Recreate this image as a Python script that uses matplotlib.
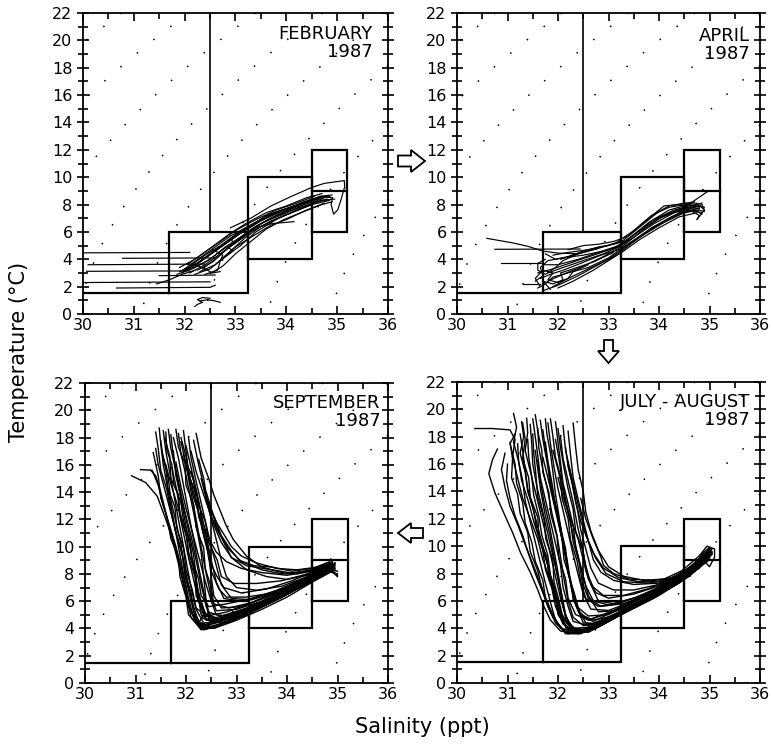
import numpy as np
import matplotlib
matplotlib.use("Agg")
import matplotlib.pyplot as plt
from matplotlib.patches import Polygon
from matplotlib.ticker import MultipleLocator

# ---------------- data ----------------
sal_ticks = [30, 31, 32, 33, 34, 35, 36]
temp_ticks = [0, 2, 4, 6, 8, 10, 12, 14, 16, 18, 20, 22]
sigma_levels = [18, 19, 20, 21, 22, 23, 24, 25, 26, 27, 28]

panel_titles = ["FEBRUARY\n1987", "APRIL\n1987", "SEPTEMBER\n1987", "JULY - AUGUST\n1987"]

# water-mass boxes: (S_left, S_right, T_bottom, T_top)
box_slope_shelf = (31.7, 33.25, 1.5, 6.0)
box_mid = (33.25, 34.5, 4.0, 10.0)
box_deep = (34.5, 35.2, 6.0, 12.0)
deep_divider_T = 9.0
shelf_floor = (30.0, 31.7, 1.5)
front_line = (32.5, 6.0, 22.0)

feb_profiles = [
    [(30.0, 4.47), (32.1, 4.5)],
    [(30.78, 4.07), (32.6, 4.1)],
    [(30.1, 3.6), (32.4, 3.65)],
    [(30.07, 3.12), (32.1, 3.15)],
    [(30.0, 2.3), (32.5, 2.35)],
    [(30.66, 1.9), (32.5, 1.95), (32.6, 2.1)],
    [(31.5, 2.8), (32.6, 2.85)],
    [(31.45, 2.2), (31.7, 2.5), (31.95, 2.9), (32.2, 3.2)],
    [(32.5, 1.15), (32.35, 1.2), (32.25, 1.05), (32.35, 0.85), (32.25, 0.7), (32.2, 0.55)],
    [(32.3, 0.95), (32.45, 1.05), (32.6, 0.95), (32.7, 0.85)],
    [(31.95, 3.0), (32.2, 3.6), (32.5, 4.4), (32.8, 5.2), (33.1, 5.9), (33.5, 6.8), (33.9, 7.5), (34.3, 8.1), (34.6, 8.5), (34.8, 8.6)],
    [(32.0, 3.3), (32.3, 4.1), (32.6, 4.9), (32.9, 5.7), (33.3, 6.5), (33.7, 7.3), (34.1, 7.8), (34.5, 8.3), (34.75, 8.5)],
    [(32.1, 3.0), (32.4, 3.6), (32.7, 4.4), (33.0, 5.2), (33.3, 6.0), (33.7, 6.8), (34.1, 7.4), (34.5, 8.0), (34.85, 8.3)],
    [(32.2, 2.9), (32.5, 3.3), (32.8, 4.2), (33.1, 5.0), (33.4, 6.0), (33.8, 6.9), (34.2, 7.6), (34.6, 8.2), (34.9, 8.4)],
    [(31.9, 3.4), (32.2, 4.0), (32.5, 4.8), (32.9, 5.9), (33.2, 6.6), (33.6, 7.4), (34.0, 7.9), (34.4, 8.5), (34.7, 8.8)],
    [(32.3, 3.1), (32.6, 3.6), (32.9, 4.6), (33.2, 5.6), (33.5, 6.4), (33.9, 7.1), (34.3, 7.7), (34.7, 8.3), (34.95, 8.4)],
    [(32.05, 3.6), (32.35, 4.4), (32.7, 5.3), (33.0, 6.1), (33.4, 6.9), (33.8, 7.6), (34.2, 8.1), (34.55, 8.6)],
    [(31.85, 2.9), (32.15, 3.3), (32.45, 3.9), (32.75, 4.7), (33.05, 5.5), (33.35, 6.3), (33.75, 7.1), (34.2, 7.7), (34.6, 8.2), (34.8, 8.4)],
    [(32.4, 2.9), (32.65, 3.2), (32.7, 3.9), (33.0, 4.9), (33.3, 5.6), (33.7, 6.5), (34.0, 6.9), (34.4, 7.6), (34.75, 8.1)],
    [(32.0, 3.2), (32.3, 3.8), (32.6, 4.6), (32.95, 5.5), (33.25, 6.3), (33.6, 7.2), (34.0, 7.7), (34.4, 8.2), (34.7, 8.6), (34.9, 8.5)],
    [(32.9, 6.3), (33.3, 7.0), (33.7, 7.9), (34.1, 8.6), (34.5, 9.25), (34.75, 9.55), (35.14, 9.75), (35.15, 9.2)],
    [(34.5, 8.4), (34.75, 8.6), (34.91, 8.5), (34.88, 8.0), (34.93, 7.3), (35.01, 7.6), (35.08, 8.4), (35.14, 9.2)],
    [(32.55, 4.7), (32.75, 4.3), (32.7, 3.9), (32.95, 4.6), (32.85, 4.9)],
    [(33.4, 6.3), (33.7, 6.6), (34.0, 6.7), (34.15, 6.75)],
    [(32.15, 3.7), (32.4, 3.3), (32.55, 3.0), (32.7, 3.1)],
    [(32.15, 3.4), (32.45, 4.2), (32.75, 5.0), (33.05, 5.8), (33.35, 6.6), (33.75, 7.4), (34.15, 7.9), (34.5, 8.4), (34.8, 8.6)],
    [(31.95, 3.2), (32.25, 3.7), (32.55, 4.5), (32.85, 5.4), (33.15, 6.2), (33.55, 7.0), (33.95, 7.6), (34.35, 8.2), (34.65, 8.5)],
    [(32.25, 3.2), (32.55, 3.8), (32.85, 4.8), (33.15, 5.6), (33.45, 6.5), (33.85, 7.3), (34.25, 7.9), (34.6, 8.4), (34.85, 8.6)],
    [(32.1, 3.5), (32.4, 4.3), (32.75, 5.1), (33.1, 6.0), (33.45, 6.8), (33.85, 7.5), (34.3, 8.0), (34.65, 8.6), (34.9, 8.7)],
    [(32.35, 3.3), (32.6, 4.0), (32.9, 5.0), (33.2, 5.8), (33.55, 6.7), (33.95, 7.3), (34.35, 8.0), (34.7, 8.4)],
    [(32.5, 2.95), (32.75, 3.5), (33.0, 4.4), (33.3, 5.3), (33.6, 6.2), (33.95, 6.9), (34.35, 7.5), (34.7, 8.0), (34.9, 8.2)],
    [(31.9, 3.1), (32.2, 3.4), (32.5, 4.0), (32.8, 4.9), (33.1, 5.6), (33.4, 6.4), (33.8, 7.2), (34.2, 7.9), (34.6, 8.4)],
]

apr_profiles = [
    [(30.59, 5.53), (31.1, 5.2), (31.4, 4.95), (31.7, 4.6), (32.0, 4.45), (32.4, 4.4)],
    [(30.75, 4.73), (32.44, 4.75)],
    [(30.88, 3.7), (31.71, 3.7)],
    [(31.31, 2.2), (31.65, 2.2)],
    [(31.7, 1.7), (32.0, 2.1), (32.4, 2.8), (32.8, 3.6), (33.2, 4.4), (33.6, 5.6), (34.0, 6.5), (34.4, 7.3), (34.7, 7.6), (34.85, 7.3)],
    [(31.8, 2.4), (32.1, 2.9), (32.5, 3.5), (32.9, 4.2), (33.3, 5.0), (33.7, 6.2), (34.1, 7.2), (34.5, 7.8), (34.8, 7.7)],
    [(31.6, 3.0), (31.9, 3.3), (32.3, 3.8), (32.7, 4.3), (33.1, 4.8), (33.4, 5.5), (33.8, 6.7), (34.2, 7.6), (34.6, 8.0), (34.9, 7.8)],
    [(31.9, 4.3), (32.2, 4.5), (32.6, 4.7), (33.0, 5.0), (33.3, 5.4), (33.6, 6.4), (33.9, 7.3), (34.1, 7.9), (34.4, 8.0), (34.7, 8.2)],
    [(31.55, 2.4), (31.7, 2.8), (31.65, 3.4), (31.8, 3.9), (32.1, 4.1), (32.5, 4.3), (32.9, 4.6), (33.2, 4.9), (33.5, 5.6), (33.9, 6.6), (34.3, 7.4), (34.6, 7.7), (34.9, 7.5)],
    [(32.0, 1.9), (32.3, 2.4), (32.7, 3.2), (33.0, 3.9), (33.3, 4.6), (33.6, 5.4), (34.0, 6.3), (34.4, 7.1), (34.75, 7.4)],
    [(31.7, 3.6), (32.0, 3.6), (32.4, 4.0), (32.8, 4.5), (33.2, 5.0), (33.5, 5.8), (33.9, 6.9), (34.3, 7.6), (34.6, 7.9), (34.85, 8.1)],
    [(31.6, 1.9), (31.75, 2.2), (31.9, 2.7), (32.2, 3.0), (32.6, 3.4), (33.0, 4.1), (33.3, 4.9), (33.7, 5.9), (34.1, 6.8), (34.5, 7.6), (34.8, 7.9)],
    [(32.2, 4.7), (32.5, 5.0), (32.8, 5.1), (33.1, 5.3), (33.4, 5.7), (33.7, 6.6), (34.0, 7.5), (34.2, 7.9), (34.5, 8.1), (34.75, 8.1), (34.9, 7.6)],
    [(31.65, 2.0), (31.55, 2.6), (31.7, 3.2), (31.9, 3.0), (31.8, 2.5), (32.0, 2.3), (32.2, 2.6), (32.3, 3.1), (32.6, 3.6)],
    [(31.75, 4.0), (31.6, 3.7), (31.6, 3.2), (31.75, 2.9), (31.95, 3.4), (32.1, 3.9), (32.4, 4.4), (32.8, 4.8)],
    [(34.4, 7.4), (34.6, 7.6), (34.8, 7.2), (34.75, 6.9), (34.9, 7.6), (34.85, 8.0), (34.7, 7.8)],
    [(33.9, 6.9), (34.45, 7.65), (34.98, 9.0)],
    [(31.85, 1.8), (31.7, 2.4), (31.9, 2.2), (32.1, 2.5), (32.05, 3.0), (32.3, 3.3), (32.7, 3.8), (33.1, 4.5)],
    [(31.75, 4.4), (31.95, 4.0), (32.2, 4.2), (32.5, 4.6), (32.8, 4.9), (33.1, 5.1), (33.4, 5.4)],
    [(31.9, 2.0), (32.2, 2.6), (32.6, 3.3), (33.0, 4.0), (33.3, 4.8), (33.7, 5.8), (34.1, 6.7), (34.5, 7.4), (34.8, 7.6)],
    [(31.8, 3.0), (32.1, 3.4), (32.5, 3.9), (32.9, 4.4), (33.2, 4.9), (33.55, 5.9), (33.95, 6.9), (34.35, 7.5), (34.7, 7.9)],
    [(32.05, 4.0), (32.4, 4.4), (32.8, 4.8), (33.15, 5.2), (33.5, 6.1), (33.85, 7.2), (34.2, 7.8), (34.55, 8.0), (34.8, 7.8)],
    [(31.65, 2.6), (31.85, 2.9), (32.1, 3.2), (32.45, 3.7), (32.85, 4.3), (33.2, 4.7), (33.5, 5.3), (33.85, 6.3), (34.25, 7.1), (34.6, 7.6), (34.85, 7.4)],
]

sep_profiles = [
    [(31.47, 18.7), (31.5, 17.5), (31.55, 16.0), (31.65, 14.0), (31.75, 12.0), (31.85, 10.0), (31.95, 8.0), (32.05, 6.2), (32.15, 4.8), (32.3, 4.0), (32.6, 4.2), (33.0, 4.9), (33.5, 5.7), (34.0, 6.6), (34.5, 7.7), (34.85, 8.4), (35.0, 7.9)],
    [(31.55, 18.5), (31.6, 17.0), (31.7, 15.0), (31.8, 13.0), (31.9, 11.0), (32.0, 9.0), (32.1, 7.0), (32.2, 5.4), (32.35, 4.4), (32.7, 4.5), (33.2, 5.3), (33.7, 6.1), (34.2, 7.0), (34.6, 7.9), (34.9, 8.5)],
    [(31.65, 18.6), (31.7, 17.2), (31.8, 15.5), (31.9, 13.5), (32.0, 11.5), (32.1, 9.5), (32.2, 7.5), (32.3, 5.8), (32.4, 4.6), (32.8, 4.7), (33.3, 5.4), (33.9, 6.4), (34.4, 7.4), (34.8, 8.3), (34.95, 8.6)],
    [(31.75, 18.0), (31.85, 16.5), (31.95, 14.5), (32.05, 12.5), (32.15, 10.5), (32.25, 8.5), (32.35, 6.7), (32.45, 5.2), (32.7, 4.9), (33.2, 5.5), (33.8, 6.5), (34.3, 7.5), (34.75, 8.5), (34.9, 8.7)],
    [(31.9, 17.7), (32.0, 16.0), (32.1, 14.0), (32.2, 12.0), (32.3, 10.0), (32.4, 8.0), (32.5, 6.3), (32.6, 5.3), (33.0, 5.4), (33.5, 6.0), (34.0, 6.9), (34.5, 7.9), (34.85, 8.6)],
    [(32.0, 17.4), (32.1, 15.8), (32.2, 14.2), (32.3, 12.5), (32.4, 10.8), (32.5, 9.0), (32.6, 7.4), (32.75, 6.2), (33.1, 6.0), (33.6, 6.5), (34.1, 7.2), (34.5, 8.0), (34.9, 8.8)],
    [(32.2, 18.3), (32.3, 16.5), (32.45, 15.0), (32.55, 13.8), (32.67, 12.7), (32.8, 11.5), (32.94, 10.5), (33.2, 9.3), (33.5, 8.5), (34.0, 8.0), (34.5, 8.3), (34.85, 8.8)],
    [(32.1, 17.0), (32.2, 15.5), (32.35, 13.8), (32.5, 12.2), (32.65, 11.0), (32.85, 9.8), (33.1, 8.9), (33.5, 8.3), (33.9, 8.0), (34.4, 8.2), (34.8, 8.7)],
    [(31.3, 15.6), (31.4, 15.2), (31.5, 14.0), (31.6, 12.5), (31.7, 11.0), (31.8, 9.5), (31.9, 8.0), (32.0, 6.5), (32.1, 5.2), (32.25, 4.2), (32.5, 4.0), (33.0, 4.8), (33.6, 5.8), (34.1, 6.8), (34.6, 7.8), (34.9, 8.2)],
    [(30.92, 15.2), (31.2, 14.7), (31.43, 13.7), (31.6, 12.0), (31.79, 10.0), (31.9, 8.2), (32.0, 6.6), (32.1, 4.8), (32.3, 3.9), (32.6, 4.1), (33.0, 4.8), (33.5, 5.6), (34.0, 6.5), (34.5, 7.6), (34.85, 8.3), (35.0, 7.8)],
    [(31.1, 15.65), (31.33, 15.6), (31.45, 14.5), (31.55, 13.0), (31.68, 11.5), (31.8, 10.0), (31.9, 8.6), (32.0, 7.0), (32.05, 5.6), (32.2, 4.5), (32.4, 4.3), (32.9, 5.0), (33.4, 5.7), (33.9, 6.5), (34.4, 7.4), (34.8, 8.1)],
    [(31.5, 17.8), (31.55, 16.4), (31.65, 15.0), (31.7, 13.4), (31.8, 11.8), (31.9, 10.2), (31.95, 8.8), (32.05, 7.2), (32.15, 5.6), (32.25, 4.5), (32.45, 4.1), (32.9, 4.6), (33.4, 5.4), (34.0, 6.5), (34.5, 7.5), (34.9, 8.5)],
    [(31.7, 18.2), (31.75, 16.6), (31.85, 14.8), (31.95, 13.0), (32.05, 11.2), (32.15, 9.4), (32.2, 7.8), (32.25, 6.2), (32.3, 5.0), (32.5, 4.5), (32.9, 4.9), (33.4, 5.6), (33.9, 6.4), (34.4, 7.3), (34.8, 8.2), (35.0, 8.0)],
    [(31.85, 18.3), (31.9, 16.8), (32.0, 15.2), (32.1, 13.4), (32.2, 11.6), (32.3, 9.6), (32.35, 7.8), (32.4, 6.0), (32.45, 4.7), (32.7, 4.6), (33.2, 5.2), (33.7, 6.0), (34.2, 7.0), (34.65, 8.0), (34.9, 8.6)],
    [(31.6, 16.0), (31.7, 14.6), (31.85, 12.8), (31.95, 11.0), (32.05, 9.2), (32.15, 7.6), (32.25, 6.0), (32.35, 5.0), (32.6, 4.8), (33.1, 5.3), (33.6, 6.1), (34.1, 7.0), (34.6, 8.0), (34.95, 8.4)],
    [(32.05, 18.0), (32.1, 16.5), (32.2, 14.8), (32.3, 13.2), (32.4, 11.6), (32.5, 10.0), (32.6, 8.6), (32.7, 7.2), (32.9, 6.2), (33.3, 6.1), (33.8, 6.7), (34.3, 7.5), (34.7, 8.2), (34.95, 8.7)],
    [(31.95, 16.8), (32.05, 15.2), (32.15, 13.6), (32.3, 12.0), (32.45, 10.6), (32.6, 9.6), (32.8, 8.9), (33.1, 8.4), (33.5, 8.1), (34.0, 7.9), (34.5, 8.2), (34.9, 8.6)],
    [(32.15, 17.8), (32.25, 16.0), (32.35, 14.5), (32.45, 13.0), (32.55, 11.6), (32.7, 10.3), (32.9, 9.2), (33.2, 8.6), (33.7, 8.3), (34.2, 8.0), (34.6, 8.4), (34.9, 8.9)],
    [(31.75, 17.0), (31.8, 15.2), (31.9, 13.6), (32.0, 12.2), (32.1, 10.8), (32.2, 9.0), (32.3, 7.2), (32.4, 5.6), (32.55, 4.5), (32.8, 4.4), (33.2, 5.0), (33.8, 6.1), (34.3, 7.1), (34.75, 8.1)],
    [(31.4, 17.2), (31.45, 16.0), (31.55, 14.6), (31.65, 13.2), (31.75, 11.8), (31.85, 10.4), (31.95, 9.0), (32.0, 7.6), (32.1, 6.0), (32.2, 4.6), (32.35, 3.9), (32.7, 4.3), (33.2, 5.1), (33.8, 6.1), (34.3, 7.1), (34.8, 8.2)],
    [(32.3, 15.0), (32.4, 13.5), (32.5, 12.0), (32.6, 10.5), (32.7, 9.0), (32.8, 7.8), (33.0, 7.0), (33.4, 6.8), (33.9, 7.1), (34.4, 7.8), (34.85, 8.6)],
    [(31.95, 18.5), (32.0, 17.0), (32.05, 15.5), (32.15, 14.0), (32.25, 12.4), (32.35, 10.8), (32.45, 9.3), (32.5, 7.8), (32.55, 6.4), (32.7, 5.5), (33.1, 5.6), (33.6, 6.3), (34.1, 7.2), (34.6, 8.1), (34.95, 8.5)],
    [(32.4, 14.0), (32.5, 12.8), (32.6, 11.5), (32.75, 10.3), (32.9, 9.2), (33.2, 8.3), (33.6, 7.8), (34.0, 7.6), (34.4, 7.9), (34.8, 8.5)],
    [(31.8, 16.2), (31.9, 14.4), (32.0, 12.8), (32.1, 11.4), (32.2, 10.0), (32.3, 8.6), (32.4, 7.2), (32.5, 6.0), (32.6, 5.0), (32.9, 4.9), (33.3, 5.4), (33.9, 6.3), (34.4, 7.3), (34.9, 8.3)],
    [(32.2, 4.6), (32.3, 4.2), (32.5, 4.3), (32.55, 4.8), (32.35, 5.0), (32.25, 4.4), (32.4, 3.95)],
    [(31.6, 18.4), (31.62, 17.1), (31.72, 16.0), (31.76, 14.6), (31.9, 13.2), (31.95, 11.9), (32.08, 10.4), (32.12, 9.1), (32.25, 7.6), (32.3, 6.4), (32.45, 5.6), (32.8, 5.8), (33.3, 6.2), (33.8, 6.8), (34.3, 7.6), (34.7, 8.3), (34.95, 8.8)],
    [(31.52, 17.0), (31.6, 15.9), (31.64, 14.3), (31.78, 12.9), (31.82, 11.3), (31.95, 9.9), (32.0, 8.3), (32.12, 6.9), (32.2, 5.5), (32.4, 4.9), (32.8, 5.2), (33.3, 5.9), (33.9, 6.9), (34.4, 7.7), (34.85, 8.5)],
    [(32.0, 16.2), (32.15, 14.9), (32.2, 13.4), (32.38, 11.9), (32.45, 10.3), (32.62, 9.0), (32.7, 7.8), (32.95, 7.3), (33.4, 7.3), (33.9, 7.5), (34.4, 8.0), (34.8, 8.7)],
    [(31.8, 18.6), (31.85, 17.3), (31.98, 16.1), (32.0, 14.5), (32.15, 13.1), (32.2, 11.4), (32.35, 9.9), (32.38, 8.4), (32.5, 7.0), (32.55, 5.8), (32.85, 5.5), (33.3, 5.9), (33.8, 6.6), (34.3, 7.5), (34.75, 8.4), (35.0, 8.2)],
    [(31.35, 16.9), (31.45, 15.2), (31.5, 13.6), (31.62, 12.2), (31.7, 10.6), (31.85, 9.2), (31.88, 7.8), (32.0, 6.3), (32.05, 5.0), (32.28, 4.1), (32.6, 4.4), (33.1, 5.2), (33.7, 6.2), (34.2, 7.1), (34.7, 8.1), (34.9, 8.6)],
    [(32.25, 16.4), (32.35, 15.0), (32.42, 13.4), (32.58, 12.0), (32.7, 10.8), (32.88, 9.8), (33.05, 9.0), (33.35, 8.6), (33.7, 8.5), (34.1, 8.2), (34.5, 8.4), (34.85, 8.9)],
    [(31.58, 18.0), (31.68, 16.6), (31.7, 15.0), (31.85, 13.8), (31.88, 12.3), (32.02, 10.6), (32.06, 9.1), (32.18, 7.8), (32.2, 6.4), (32.35, 5.3), (32.5, 4.6), (32.9, 5.0), (33.4, 5.8), (34.0, 6.8), (34.5, 7.8), (34.9, 8.4)],
    [(31.9, 18.0), (32.0, 16.6), (32.08, 15.0), (32.22, 13.7), (32.25, 12.2), (32.4, 10.7), (32.45, 9.1), (32.6, 7.9), (32.75, 7.0), (33.1, 6.6), (33.6, 6.9), (34.1, 7.5), (34.6, 8.3), (34.9, 8.7)],
    [(31.72, 15.8), (31.82, 14.1), (31.88, 12.5), (32.0, 11.0), (32.05, 9.6), (32.18, 8.1), (32.22, 6.8), (32.32, 5.8), (32.4, 4.9), (32.65, 4.7), (33.1, 5.1), (33.7, 6.0), (34.25, 7.0), (34.7, 7.9), (34.95, 8.3)],
    [(32.45, 13.0), (32.6, 11.8), (32.75, 10.9), (32.9, 10.0), (33.1, 9.3), (33.4, 8.8), (33.8, 8.4), (34.2, 8.3), (34.6, 8.5), (34.9, 8.8)],
    [(31.4, 18.4), (31.45, 17.2), (31.5, 15.6), (31.62, 14.2), (31.7, 12.6), (31.8, 11.0), (31.92, 9.6), (31.98, 7.9), (32.1, 6.6), (32.15, 5.2), (32.3, 4.3), (32.55, 4.0), (33.0, 4.6), (33.5, 5.4), (34.0, 6.3), (34.5, 7.4), (34.85, 8.1)],
    [(32.15, 5.0), (32.25, 4.3), (32.45, 4.2), (32.6, 4.6), (32.45, 5.1), (32.3, 4.8), (32.5, 4.5), (32.8, 4.8)],
    [(32.1, 15.5), (32.2, 14.1), (32.28, 12.8), (32.32, 11.3), (32.45, 9.7), (32.5, 8.2), (32.65, 6.9), (32.8, 6.3), (33.2, 6.3), (33.7, 6.6), (34.2, 7.3), (34.7, 8.2), (34.95, 8.8)],
]

jul_profiles = [
    [(30.35, 18.6), (30.7, 18.6), (31.05, 18.5), (31.15, 17.8), (31.1, 16.5), (31.2, 15.0), (31.3, 13.5), (31.45, 12.0), (31.6, 10.5), (31.7, 9.0), (31.85, 7.5), (31.95, 6.0), (32.05, 4.8), (32.2, 3.8), (32.6, 3.8), (33.1, 4.9), (33.8, 6.1), (34.4, 7.5), (34.85, 8.8), (35.0, 9.5)],
    [(30.8, 17.1), (30.7, 16.3), (30.63, 15.3), (30.75, 13.9), (30.93, 12.4), (31.1, 11.0), (31.26, 9.5), (31.45, 8.1), (31.6, 6.8), (31.72, 5.6), (31.85, 4.6), (32.05, 3.8), (32.4, 3.6), (32.9, 4.4), (33.5, 5.6), (34.1, 6.8), (34.6, 8.0), (34.95, 9.0)],
    [(30.95, 16.8), (30.88, 15.6), (30.95, 14.3), (31.05, 12.9), (31.2, 11.6), (31.35, 10.1), (31.5, 8.7), (31.65, 7.3), (31.78, 6.0), (31.9, 4.8), (32.1, 3.9), (32.5, 3.9), (33.0, 4.8), (33.6, 5.9), (34.2, 7.2), (34.7, 8.4), (35.0, 9.4)],
    [(31.12, 19.7), (31.18, 18.7), (31.12, 17.6), (31.22, 16.2), (31.28, 14.8), (31.42, 13.2), (31.52, 11.8), (31.66, 10.2), (31.8, 8.6), (31.9, 7.0), (32.0, 5.5), (32.1, 4.4), (32.3, 3.7), (32.8, 4.2), (33.4, 5.4), (34.0, 6.5), (34.6, 7.9), (35.0, 9.6)],
    [(31.38, 19.35), (31.4, 18.3), (31.35, 17.0), (31.45, 15.5), (31.55, 14.0), (31.65, 12.5), (31.75, 11.0), (31.85, 9.4), (31.95, 7.8), (32.05, 6.2), (32.15, 4.9), (32.3, 4.0), (32.7, 4.1), (33.2, 5.0), (33.8, 6.1), (34.4, 7.4), (34.9, 8.9)],
    [(31.5, 19.3), (31.55, 18.0), (31.6, 16.6), (31.65, 15.0), (31.75, 13.4), (31.85, 11.8), (31.95, 10.2), (32.05, 8.6), (32.1, 7.0), (32.2, 5.6), (32.3, 4.5), (32.6, 4.2), (33.1, 5.0), (33.7, 6.1), (34.3, 7.3), (34.8, 8.6), (35.05, 9.8)],
    [(31.65, 19.2), (31.7, 17.8), (31.78, 16.2), (31.85, 14.6), (31.95, 13.0), (32.05, 11.4), (32.15, 9.8), (32.2, 8.2), (32.3, 6.6), (32.4, 5.3), (32.6, 4.6), (33.0, 5.1), (33.6, 6.2), (34.2, 7.3), (34.7, 8.5), (35.0, 9.2)],
    [(31.8, 19.0), (31.85, 17.5), (31.92, 15.8), (32.0, 14.2), (32.1, 12.6), (32.2, 11.0), (32.3, 9.4), (32.4, 7.9), (32.5, 6.5), (32.65, 5.4), (33.0, 5.3), (33.5, 6.0), (34.0, 6.8), (34.5, 7.9), (34.9, 9.0)],
    [(32.3, 19.0), (32.35, 17.2), (32.4, 15.6), (32.5, 14.0), (32.55, 12.5), (32.65, 11.1), (32.8, 9.7), (33.0, 8.5), (33.3, 7.8), (33.7, 7.5), (34.1, 7.6), (34.45, 8.2), (34.8, 9.3), (35.0, 9.9), (35.05, 9.5), (34.95, 9.1)],
    [(32.1, 18.8), (32.15, 17.0), (32.25, 15.4), (32.35, 13.8), (32.45, 12.3), (32.55, 10.8), (32.7, 9.5), (32.9, 8.4), (33.2, 7.7), (33.6, 7.4), (34.0, 7.4), (34.4, 7.9), (34.75, 8.9), (35.0, 9.7)],
    [(31.25, 18.2), (31.3, 17.0), (31.35, 15.6), (31.4, 14.2), (31.5, 12.8), (31.6, 11.4), (31.7, 10.0), (31.8, 8.5), (31.9, 7.1), (32.0, 5.8), (32.1, 4.6), (32.2, 3.7), (32.55, 3.7), (33.1, 4.8), (33.7, 5.9), (34.3, 7.1), (34.8, 8.4)],
    [(31.95, 19.1), (32.0, 17.6), (32.05, 16.1), (32.1, 14.6), (32.2, 13.1), (32.3, 11.5), (32.35, 10.0), (32.45, 8.5), (32.55, 7.1), (32.7, 6.0), (33.0, 5.7), (33.5, 6.2), (34.0, 7.0), (34.5, 8.0), (34.9, 9.2)],
    [(31.6, 18.6), (31.62, 17.2), (31.7, 15.6), (31.8, 14.0), (31.88, 12.4), (31.98, 10.8), (32.05, 9.2), (32.12, 7.6), (32.2, 6.0), (32.3, 4.8), (32.5, 4.2), (32.9, 4.5), (33.5, 5.6), (34.1, 6.8), (34.6, 8.0), (35.0, 9.3)],
    [(31.45, 18.9), (31.48, 17.5), (31.5, 16.0), (31.58, 14.4), (31.68, 12.8), (31.78, 11.2), (31.88, 9.6), (31.98, 8.0), (32.08, 6.4), (32.15, 5.0), (32.25, 4.1), (32.6, 3.7), (33.2, 4.9), (33.9, 6.2), (34.5, 7.7), (34.9, 8.8)],
    [(32.0, 15.0), (32.1, 13.6), (32.25, 12.0), (32.4, 10.5), (32.5, 9.0), (32.6, 7.6), (32.75, 6.6), (33.0, 6.2), (33.5, 6.5), (34.0, 7.1), (34.5, 8.0), (34.9, 9.0)],
    [(31.9, 17.0), (32.0, 15.6), (32.1, 14.0), (32.2, 12.4), (32.3, 10.8), (32.4, 9.2), (32.5, 7.8), (32.6, 6.4), (32.8, 5.2), (33.2, 5.3), (33.8, 6.3), (34.4, 7.6), (34.85, 8.8)],
    [(31.7, 16.5), (31.8, 15.0), (31.9, 13.4), (32.0, 11.8), (32.1, 10.2), (32.18, 8.6), (32.26, 7.0), (32.36, 5.6), (32.5, 4.4), (32.8, 4.2), (33.3, 5.2), (33.9, 6.4), (34.5, 7.8), (34.95, 9.4)],
    [(31.2, 17.5), (31.22, 16.2), (31.3, 14.8), (31.35, 13.3), (31.45, 11.8), (31.55, 10.3), (31.65, 8.8), (31.75, 7.3), (31.85, 5.9), (31.95, 4.6), (32.15, 3.6), (32.45, 3.6), (33.0, 4.6), (33.6, 5.8), (34.2, 7.1), (34.75, 8.5), (35.0, 9.1)],
    [(32.2, 18.4), (32.25, 16.6), (32.3, 15.0), (32.4, 13.4), (32.5, 11.9), (32.6, 10.4), (32.75, 9.1), (32.95, 8.0), (33.3, 7.4), (33.8, 7.3), (34.2, 7.6), (34.6, 8.4), (34.9, 9.5)],
    [(31.55, 17.0), (31.6, 15.6), (31.66, 14.0), (31.74, 12.4), (31.84, 10.8), (31.92, 9.2), (32.0, 7.6), (32.08, 6.0), (32.16, 4.6), (32.35, 3.8), (32.75, 4.0), (33.3, 5.1), (33.9, 6.3), (34.5, 7.6), (34.9, 8.9)],
    [(31.0, 16.0), (30.98, 14.8), (31.05, 13.5), (31.15, 12.2), (31.3, 10.8), (31.42, 9.4), (31.55, 8.0), (31.7, 6.6), (31.82, 5.4), (31.98, 4.3), (32.2, 3.6), (32.6, 3.9), (33.2, 5.0), (33.8, 6.1), (34.4, 7.4), (34.85, 8.6)],
    [(32.45, 13.5), (32.55, 12.0), (32.7, 10.5), (32.85, 9.2), (32.9, 8.6), (33.1, 8.0), (33.4, 7.6), (33.9, 7.5), (34.3, 7.7), (34.7, 8.6), (35.0, 9.8)],
    [(31.75, 17.6), (31.8, 16.2), (31.88, 14.6), (31.95, 13.0), (32.05, 11.4), (32.12, 9.8), (32.2, 8.2), (32.28, 6.8), (32.4, 5.4), (32.55, 4.4), (32.9, 4.3), (33.4, 5.4), (34.0, 6.6), (34.55, 7.9), (34.95, 9.0)],
    [(32.05, 18.0), (32.1, 16.4), (32.2, 14.8), (32.3, 13.2), (32.38, 11.6), (32.47, 10.1), (32.55, 8.6), (32.65, 7.2), (32.8, 6.0), (33.1, 5.8), (33.6, 6.3), (34.1, 7.1), (34.6, 8.2), (34.95, 9.4)],
    [(34.8, 9.3), (34.95, 10.0), (35.1, 9.8), (35.1, 9.2), (35.0, 8.5), (34.9, 8.9), (35.05, 9.5)],
    [(31.3, 19.0), (31.35, 17.8), (31.3, 16.4), (31.42, 15.0), (31.45, 13.6), (31.6, 12.1), (31.62, 10.6), (31.78, 9.2), (31.82, 7.7), (31.95, 6.4), (32.0, 5.0), (32.2, 4.0), (32.5, 3.8), (33.0, 4.7), (33.6, 5.8), (34.2, 7.0), (34.7, 8.3), (35.0, 9.3)],
    [(31.55, 19.6), (31.6, 18.4), (31.68, 17.0), (31.7, 15.4), (31.82, 13.9), (31.86, 12.3), (31.98, 10.7), (32.02, 9.1), (32.15, 7.6), (32.2, 6.2), (32.35, 5.0), (32.6, 4.6), (33.1, 5.3), (33.7, 6.4), (34.3, 7.5), (34.8, 8.8)],
    [(31.85, 19.3), (31.9, 18.0), (31.95, 16.5), (32.05, 15.1), (32.08, 13.5), (32.2, 12.0), (32.25, 10.4), (32.38, 8.9), (32.45, 7.4), (32.55, 6.2), (32.8, 5.6), (33.2, 5.8), (33.8, 6.6), (34.3, 7.6), (34.8, 8.9), (35.05, 9.6)],
    [(31.05, 17.6), (31.1, 16.4), (31.08, 15.0), (31.2, 13.8), (31.25, 12.4), (31.4, 11.0), (31.45, 9.6), (31.6, 8.2), (31.68, 6.9), (31.8, 5.6), (31.95, 4.4), (32.15, 3.7), (32.5, 3.7), (33.0, 4.5), (33.6, 5.7), (34.2, 6.9), (34.7, 8.2), (34.95, 9.1)],
    [(31.7, 18.5), (31.75, 17.1), (31.82, 15.6), (31.88, 14.0), (31.98, 12.6), (32.05, 11.0), (32.15, 9.5), (32.2, 8.0), (32.32, 6.6), (32.4, 5.5), (32.6, 4.9), (33.0, 5.0), (33.5, 5.9), (34.1, 6.9), (34.6, 8.1), (35.0, 9.5)],
    [(32.15, 17.2), (32.2, 15.8), (32.3, 14.3), (32.38, 12.8), (32.45, 11.2), (32.55, 9.8), (32.65, 8.4), (32.8, 7.3), (33.1, 6.8), (33.5, 6.8), (34.0, 7.2), (34.5, 8.1), (34.9, 9.2)],
    [(31.4, 17.8), (31.42, 16.5), (31.48, 15.1), (31.52, 13.7), (31.62, 12.2), (31.68, 10.8), (31.8, 9.3), (31.85, 7.9), (31.98, 6.4), (32.05, 5.2), (32.25, 4.0), (32.6, 3.9), (33.2, 5.0), (33.8, 6.1), (34.4, 7.3), (34.85, 8.6)],
    [(31.95, 17.8), (32.02, 16.4), (32.08, 14.8), (32.15, 13.4), (32.25, 11.8), (32.3, 10.3), (32.42, 8.8), (32.48, 7.4), (32.6, 6.2), (32.85, 5.6), (33.3, 5.8), (33.8, 6.5), (34.3, 7.4), (34.8, 8.6), (35.0, 9.9)],
    [(31.28, 19.1), (31.32, 18.0), (31.25, 16.8), (31.35, 15.4), (31.4, 14.0), (31.52, 12.6), (31.58, 11.2), (31.7, 9.7), (31.75, 8.3), (31.88, 6.9), (31.95, 5.6), (32.1, 4.3), (32.35, 3.7), (32.8, 4.1), (33.4, 5.3), (34.0, 6.5), (34.6, 7.9), (35.0, 9.0)],
    [(31.15, 18.2), (31.05, 17.5), (31.15, 16.0), (31.18, 14.6), (31.3, 13.2), (31.35, 11.7), (31.48, 10.3), (31.55, 8.9), (31.7, 7.5), (31.75, 6.2), (31.9, 5.0), (32.05, 4.0), (32.4, 3.7), (32.9, 4.4), (33.5, 5.5), (34.1, 6.7), (34.65, 8.0), (34.95, 9.2)],
    [(32.2, 16.0), (32.28, 14.6), (32.35, 13.2), (32.45, 11.8), (32.6, 10.4), (32.7, 9.0), (32.85, 8.1), (33.1, 7.5), (33.5, 7.2), (34.0, 7.3), (34.4, 7.8), (34.8, 9.0), (35.0, 9.6)],
    [(31.75, 19.3), (31.78, 18.2), (31.85, 16.8), (31.9, 15.4), (31.95, 13.8), (32.02, 12.2), (32.08, 10.6), (32.18, 9.0), (32.25, 7.4), (32.35, 6.0), (32.45, 4.9), (32.7, 4.5), (33.2, 5.4), (33.8, 6.5), (34.4, 7.7), (34.85, 8.9)],
    [(31.6, 16.3), (31.65, 14.8), (31.72, 13.3), (31.82, 11.7), (31.9, 10.1), (31.98, 8.5), (32.05, 7.0), (32.1, 5.6), (32.2, 4.4), (32.4, 3.8), (32.8, 4.1), (33.3, 5.1), (34.0, 6.4), (34.6, 7.8), (34.95, 9.0)],
    [(31.5, 18.2), (31.52, 16.8), (31.56, 15.3), (31.6, 13.6), (31.72, 12.0), (31.76, 10.5), (31.9, 9.0), (31.92, 7.4), (32.02, 6.0), (32.1, 4.7), (32.28, 3.9), (32.6, 3.9), (33.1, 4.9), (33.7, 6.0), (34.3, 7.2), (34.8, 8.5), (35.05, 9.4)],
    [(32.0, 18.6), (32.05, 17.2), (32.12, 15.7), (32.2, 14.2), (32.3, 12.7), (32.35, 11.1), (32.5, 9.6), (32.55, 8.2), (32.7, 7.0), (32.9, 6.4), (33.3, 6.4), (33.8, 6.9), (34.3, 7.7), (34.75, 8.8), (35.0, 9.8)],
    [(31.82, 15.2), (31.9, 13.6), (32.0, 12.0), (32.08, 10.5), (32.12, 9.0), (32.25, 7.5), (32.3, 6.1), (32.45, 5.0), (32.7, 4.6), (33.1, 4.9), (33.6, 5.9), (34.2, 7.0), (34.7, 8.3), (35.0, 9.2)],
]

all_profiles = [feb_profiles, apr_profiles, sep_profiles, jul_profiles]
profile_lw = [0.85, 0.85, 1.0, 1.0]


# ---------------- helpers ----------------
def sigma_t(S, T):
    rho_w = (999.842594 + 6.793952e-2 * T - 9.095290e-3 * T**2 + 1.001685e-4 * T**3
             - 1.120083e-6 * T**4 + 6.536332e-9 * T**5)
    A = 8.24493e-1 - 4.0899e-3 * T + 7.6438e-5 * T**2 - 8.2467e-7 * T**3 + 5.3875e-9 * T**4
    B = -5.72466e-3 + 1.0227e-4 * T - 1.6546e-6 * T**2
    C = 4.8314e-4
    return rho_w + A * S + B * S**1.5 + C * S**2 - 1000.0


W, H = 773, 748
fig = plt.figure(figsize=(W / 100, H / 100), dpi=100)
plt.rcParams['font.family'] = ['DejaVu Sans']

panel_px = [(83, 13, 388, 314), (457, 13, 760, 314), (85, 383, 388, 683), (457, 382, 760, 683)]
title_pos = [(0.950, 0.96), (0.967, 0.955), (0.975, 0.963), (0.967, 0.963)]

SS, TT = np.meshgrid(np.linspace(30, 36, 241), np.linspace(0, 22, 221))
SIG = sigma_t(SS, TT)

for k, (x0, y0, x1, y1) in enumerate(panel_px):
    ax = fig.add_axes([x0 / W, 1 - y1 / H, (x1 - x0) / W, (y1 - y0) / H])
    ax.set_xlim(30, 36)
    ax.set_ylim(0, 22)
    # isopycnals (dotted)
    ax.contour(SS, TT, SIG, levels=sigma_levels, colors='black',
               linewidths=1.1, linestyles=[(0, (1.0, 13.0))])
    # boxes
    for (sl, sr, tb, tt) in (box_slope_shelf, box_mid, box_deep):
        ax.plot([sl, sr, sr, sl, sl], [tb, tb, tt, tt, tb], color='black', lw=1.6,
                solid_joinstyle='miter')
    ax.plot([box_deep[0], box_deep[1]], [deep_divider_T, deep_divider_T], color='black', lw=1.6)
    ax.plot([shelf_floor[0], shelf_floor[1]], [shelf_floor[2], shelf_floor[2]], color='black', lw=1.6)
    ax.plot([front_line[0], front_line[0]], [front_line[1], front_line[2]], color='black', lw=1.2)
    # profiles
    for prof in all_profiles[k]:
        s = [p[0] for p in prof]
        t = [p[1] for p in prof]
        ax.plot(s, t, color='black', lw=profile_lw[k])
    # ticks
    ax.set_xticks(sal_ticks)
    ax.set_yticks(temp_ticks)
    ax.xaxis.set_minor_locator(MultipleLocator(0.5))
    ax.yaxis.set_minor_locator(MultipleLocator(1))
    ax.tick_params(which='both', top=True, right=True, direction='in', width=1.2)
    ax.tick_params(which='major', length=6, labelsize=11.5, pad=3)
    ax.tick_params(which='minor', length=4)
    ax.tick_params(axis='y', which='both', left=True, direction='inout')
    ax.tick_params(axis='y', which='major', length=9)
    ax.tick_params(axis='y', which='minor', length=7)
    for sp in ax.spines.values():
        sp.set_linewidth(1.3)
    ax.text(title_pos[k][0], title_pos[k][1], panel_titles[k], transform=ax.transAxes,
            ha='right', va='top', fontsize=13, linespacing=1.0)


def block_arrow(tip_x, tip_y, direction, length, head_len, head_w, shaft_w):
    # hollow block arrow polygon in figure pixels
    ux, uy = {'right': (1, 0), 'left': (-1, 0), 'down': (0, 1)}[direction]
    px, py = -uy, ux
    pts_local = [(0, 0), (-head_len, head_w / 2), (-head_len, shaft_w / 2),
                 (-length, shaft_w / 2), (-length, -shaft_w / 2),
                 (-head_len, -shaft_w / 2), (-head_len, -head_w / 2)]
    pts = []
    for a, b in pts_local:
        X = tip_x + a * ux + b * px
        Y = tip_y + a * uy + b * py
        pts.append((X / W, 1 - Y / H))
    fig.patches.append(Polygon(pts, closed=True, facecolor='white', edgecolor='black',
                               lw=1.3, transform=fig.transFigure, figure=fig))


block_arrow(425, 161, 'right', 27, 14, 22, 11)
block_arrow(608.5, 363, 'down', 23, 12, 21, 9)
block_arrow(398, 533, 'left', 25, 13, 20, 10)

fig.text(0.547, 0.028, 'Salinity (ppt)', ha='center', va='center', fontsize=15)
fig.text(0.024, 0.53, 'Temperature (°C)', ha='center', va='center', rotation=90, fontsize=15)

fig.savefig('out.png', dpi=100)
